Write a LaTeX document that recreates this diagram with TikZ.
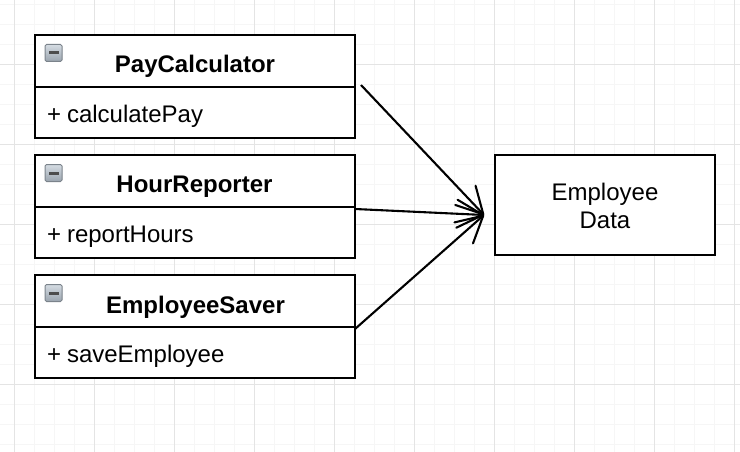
\documentclass[tikz,border=0pt]{standalone}
\usepackage{fontspec}
\setmainfont{Liberation Sans}
\usetikzlibrary{arrows.meta}
\definecolor{gridminor}{HTML}{F6F6F6}
\definecolor{gridmajor}{HTML}{E4E4E4}
\definecolor{icontop}{HTML}{9AA4AE}
\definecolor{iconbot}{HTML}{D5DCE3}
\newcommand{\headtext}[1]{\raisebox{-12pt}[0pt][0pt]{#1}}
\newcommand{\bodytext}[2]{\raisebox{-9.5pt}[0pt][0pt]{#1\hspace{6pt}#2}}
\newcommand{\datatext}[1]{\raisebox{-1pt}[\height][\depth]{#1}}
\tikzset{
  x=1pt,y=-1pt,
  box/.style={draw=black,line width=2pt,fill=white,rectangle,inner sep=0pt,outer sep=0pt,anchor=north west},
  head/.style={box,minimum width=320pt,minimum height=52pt,font=\fontsize{24}{28}\selectfont\bfseries},
  body/.style={box,minimum width=320pt,minimum height=51pt,align=left,text width=296pt,font=\fontsize{24}{28}\selectfont},
  datab/.style={box,minimum width=220pt,minimum height=100pt,align=center,font=\fontsize{24}{28}\selectfont},
  conn/.style={draw=black,line width=2.1pt,line join=round,-{Straight Barb[length=26pt,width=28pt,line width=2.1pt,round]}},
  icon/.style={draw=icontop!80!black,line width=1pt,rounded corners=1.5pt,top color=iconbot,bottom color=icontop,anchor=center,minimum size=17pt,inner sep=0pt},
  minusbar/.style={fill=black!70,draw=none,minimum width=10pt,minimum height=3pt,inner sep=0pt},
}
\begin{document}
\begin{tikzpicture}
\useasboundingbox (0,0) rectangle (740,452);
\fill[white] (0,0) rectangle (740,452);
\foreach \i in {0,...,37} {\draw[gridminor,line width=1pt] ({14.5+20*\i},0) -- ({14.5+20*\i},452);}
\foreach \i in {0,...,22} {\draw[gridminor,line width=1pt] (0,{4.5+20*\i}) -- (740,{4.5+20*\i});}
\foreach \i in {0,...,9} {\draw[gridmajor,line width=1pt] ({14.5+80*\i},0) -- ({14.5+80*\i},452);}
\foreach \i in {0,...,5} {\draw[gridmajor,line width=1pt] (0,{64.5+80*\i}) -- (740,{64.5+80*\i});}

\node[head] (payH) at (35,35) {\headtext{PayCalculator}};
\node[body] (payB) at (35,87) {\bodytext{+}{calculatePay}};
\node[head] (hourH) at (35,155) {\headtext{\hspace{-1pt}HourReporter}};
\node[body] (hourB) at (35,207) {\bodytext{+}{reportHours}};
\node[head] (saveH) at (35,275) {\headtext{\hspace{1pt}EmployeeSaver}};
\node[body] (saveB) at (35,327) {\bodytext{+}{saveEmployee}};
\node[datab] (data) at (495,155) {\datatext{Employee}\\[0pt]\datatext{Data}};

\foreach \n/\y in {iconA/53,iconB/173,iconC/293} {
  \node[icon] (\n) at (53.5,\y) {};
  \node[minusbar] at (\n.center) {};
}

\coordinate (tip) at (484,215);
\coordinate (s1) at (361,85);
\draw[conn] (s1) -- (tip);
\draw[conn] (hourB.north east) ++(0,2) -- (tip);
\draw[conn] (saveB.north east) ++(0,2) -- (tip);
\end{tikzpicture}
\end{document}
